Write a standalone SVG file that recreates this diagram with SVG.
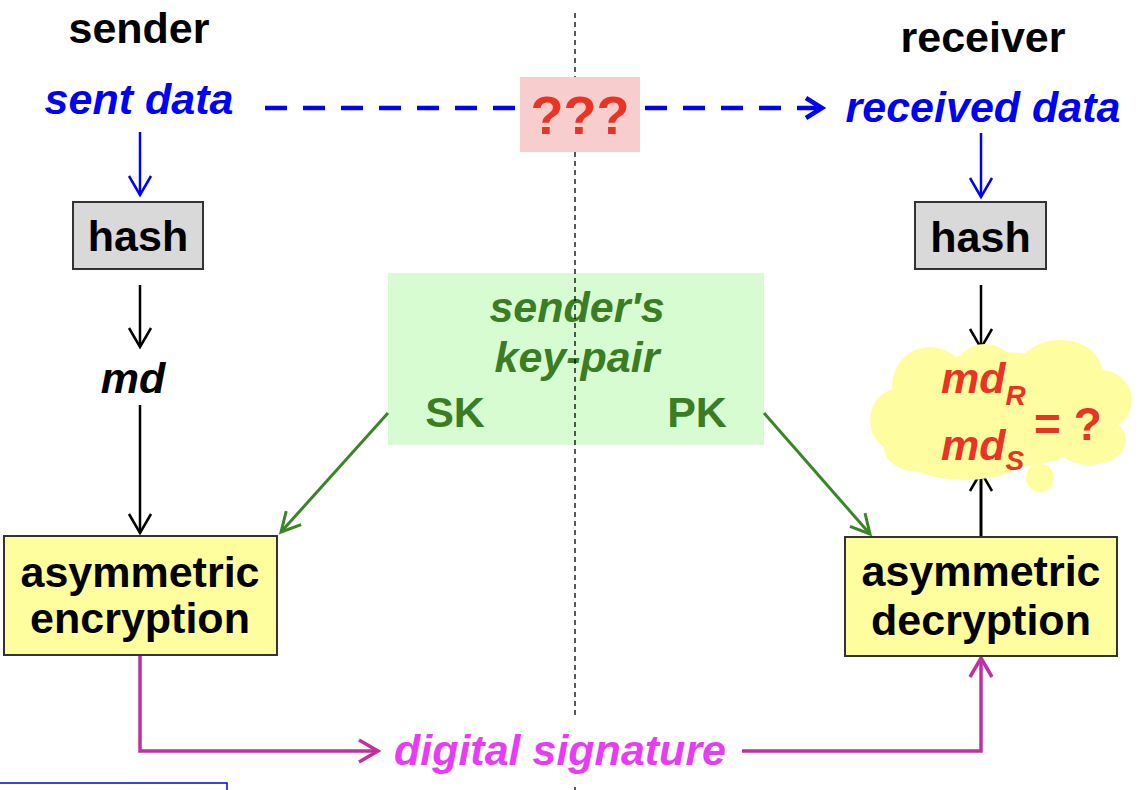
<svg xmlns="http://www.w3.org/2000/svg" width="1140" height="790" viewBox="0 0 1140 790">
<style>
text{font-family:"Liberation Sans",Arial,sans-serif;font-weight:bold;text-anchor:middle}
.it{font-style:italic}
.big{font-size:43px}
.blk{fill:#000}
.blue{fill:#0000f5}
.red{fill:#e93323}
.grn{fill:#3a7d22}
.mag{fill:#e83cf2}
.box{stroke:#333;stroke-width:2}
.hash{fill:#d9d9d9}
.yel{fill:#fefe9f}
.cl{fill:#fefda0}
</style>
<defs>
<marker id="ab" markerUnits="userSpaceOnUse" viewBox="-22 -13 26 26" markerWidth="26" markerHeight="26" refX="0" refY="0" orient="auto">
<path d="M-19,-11 L0,0 L-19,11" fill="none" stroke="#000" stroke-width="2.5"/>
</marker>
<marker id="au" markerUnits="userSpaceOnUse" viewBox="-22 -13 26 26" markerWidth="26" markerHeight="26" refX="0" refY="0" orient="auto">
<path d="M-19,-11 L0,0 L-19,11" fill="none" stroke="#0000f5" stroke-width="2.5"/>
</marker>
<marker id="ag" markerUnits="userSpaceOnUse" viewBox="-22 -13 26 26" markerWidth="26" markerHeight="26" refX="0" refY="0" orient="auto">
<path d="M-19,-10 L0,0 L-19,10" fill="none" stroke="#3a8526" stroke-width="3"/>
</marker>
<marker id="am" markerUnits="userSpaceOnUse" viewBox="-22 -13 26 26" markerWidth="26" markerHeight="26" refX="0" refY="0" orient="auto">
<path d="M-19,-11 L0,0 L-19,11" fill="none" stroke="#c0309f" stroke-width="3.5"/>
</marker>
</defs>
<rect width="1140" height="790" fill="#fff"/>

<g id="keypair">
<rect x="388" y="273" width="376" height="172" fill="#d8fcd2"/>
<text class="it grn" font-size="43" x="577" y="322">sender's</text>
<text class="it grn" font-size="43" x="577" y="372">key-pair</text>
<text class="big grn" x="455" y="427">SK</text>
<text class="big grn" x="697" y="427">PK</text>
</g>

<g id="divider">
<path d="M575,13 V77 M575,152 V715 M575,787 V790" stroke="#000" stroke-width="1.3" stroke-dasharray="5 4" fill="none"/>
</g>

<g id="connectors">
<line x1="265" y1="108" x2="819" y2="108" stroke="#0000f5" stroke-width="4.5" stroke-dasharray="22 16"/>
<path d="M806,98 L822,108 L806,118" fill="none" stroke="#0000f5" stroke-width="4.5"/>
<line x1="140" y1="132" x2="140" y2="195" stroke="#0000f5" stroke-width="2.5" marker-end="url(#au)"/>
<line x1="981" y1="133" x2="981" y2="197" stroke="#0000f5" stroke-width="2.5" marker-end="url(#au)"/>
<line x1="140" y1="285" x2="140" y2="347" stroke="#000" stroke-width="2.5" marker-end="url(#ab)"/>
<line x1="140" y1="405" x2="140" y2="533" stroke="#000" stroke-width="2.5" marker-end="url(#ab)"/>
<line x1="981" y1="285" x2="981" y2="348" stroke="#000" stroke-width="2.5" marker-end="url(#ab)"/>
<line x1="981" y1="537" x2="981" y2="472" stroke="#000" stroke-width="3" marker-end="url(#ab)"/>
<line x1="388" y1="413" x2="281" y2="532" stroke="#3a8526" stroke-width="3" marker-end="url(#ag)"/>
<line x1="764" y1="413" x2="870" y2="534" stroke="#3a8526" stroke-width="3" marker-end="url(#ag)"/>
<path d="M140,656 V751 H378" fill="none" stroke="#c0309f" stroke-width="3.5" marker-end="url(#am)"/>
<path d="M742,751 H981 V658" fill="none" stroke="#c0309f" stroke-width="3.5" marker-end="url(#am)"/>
</g>

<g id="unknown">
<rect x="520" y="77" width="120" height="75" fill="#f7cdcd"/>
<text class="red" font-size="54" x="580" y="134">???</text>
</g>

<g id="sender">
<text class="big blk" x="139" y="43">sender</text>
</g>
<g id="receiver">
<text class="big blk" x="983" y="52">receiver</text>
</g>
<g id="sent-data">
<text class="big it blue" x="139" y="114">sent data</text>
</g>
<g id="received-data">
<text class="big it blue" x="983" y="122">received data</text>
</g>

<g id="hash-left">
<rect class="box hash" x="73" y="202" width="130" height="67"/>
<text class="big blk" x="138" y="251">hash</text>
</g>
<g id="hash-right">
<rect class="box hash" x="915" y="202" width="131" height="67"/>
<text class="big blk" x="980.5" y="252">hash</text>
</g>

<g id="md">
<text class="big it blk" x="133" y="393">md</text>
</g>

<g id="encryption">
<rect class="box yel" x="4" y="536" width="273" height="119"/>
<text class="big blk" x="140" y="587">asymmetric</text>
<text class="big blk" x="140" y="633">encryption</text>
</g>

<g id="decryption">
<rect class="box yel" x="845" y="537" width="272" height="119"/>
<text class="big blk" x="981" y="586">asymmetric</text>
<text class="big blk" x="981" y="635">decryption</text>
</g>

<g id="compare">
<g class="cl">
<ellipse cx="1000" cy="410" rx="110" ry="58"/>
<circle cx="930" cy="385" r="38"/>
<ellipse cx="900" cy="420" rx="30" ry="32"/>
<circle cx="985" cy="376" r="32"/>
<ellipse cx="1060" cy="371" rx="42" ry="31"/>
<ellipse cx="1100" cy="400" rx="32" ry="30"/>
<ellipse cx="1090" cy="440" rx="36" ry="25"/>
<ellipse cx="965" cy="455" rx="62" ry="25"/>
<ellipse cx="920" cy="448" rx="36" ry="24"/>
<circle cx="1040" cy="478" r="14"/>
</g>
<text class="it red" font-size="43" style="text-anchor:start" x="941" y="393">md<tspan font-size="28" dy="12">R</tspan></text>
<text class="it red" font-size="43" style="text-anchor:start" x="941" y="460">md<tspan font-size="28" dy="10">S</tspan></text>
<text class="red" font-size="46" style="text-anchor:start" x="1034" y="440">= ?</text>
</g>

<g id="signature">
<text class="big it mag" x="560" y="765">digital signature</text>
</g>

<rect x="-2" y="783" width="229" height="20" fill="none" stroke="#0000f5" stroke-width="1.5"/>
</svg>
